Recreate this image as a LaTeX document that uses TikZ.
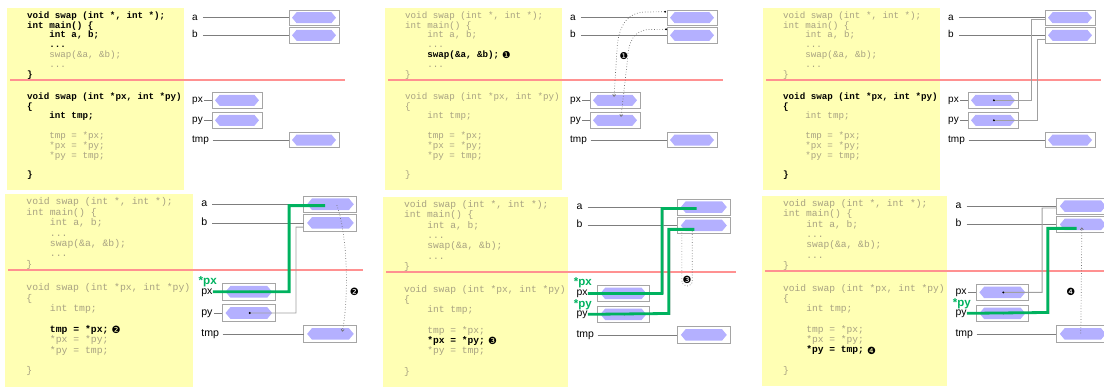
\documentclass[tikz,border=0pt]{standalone}
\usepackage{fontspec}
\setmainfont{Liberation Sans}
\newfontfamily\codefont{Liberation Mono}
\newfontfamily\dingfont{DejaVu Sans}
\usetikzlibrary{shapes.symbols,arrows.meta,calc}

\definecolor{yel}{RGB}{255,255,180}
\definecolor{redl}{RGB}{255,145,145}
\definecolor{lav}{RGB}{180,176,255}
\definecolor{boxg}{RGB}{165,165,165}
\definecolor{dimtxt}{RGB}{168,162,130}
\definecolor{grn}{RGB}{0,178,95}
\definecolor{conng}{RGB}{125,125,125}
\definecolor{ptrg}{RGB}{160,160,160}
\definecolor{dotg}{RGB}{110,110,110}

\tikzset{
 codetxt/.style={anchor=west, inner sep=0, text height=6.5, text depth=2, font=\fontsize{9.2}{10}\codefont},
 dim/.style={codetxt, text=dimtxt},
 hl/.style={codetxt, text=black, font=\fontsize{9.2}{10}\codefont\bfseries},
 l1/.style=dim, l2/.style=dim, l3/.style=dim, l4/.style=dim, l5/.style=dim,
 l6/.style=dim, l7/.style=dim, l8/.style=dim, l9/.style=dim, l10/.style=dim,
 l11/.style=dim, l12/.style=dim, l13/.style=dim, l14/.style=dim,
 vbox/.style={draw=boxg, line width=0.9, minimum width=50, minimum height=15.5, inner sep=0},
 hexa/.style={signal, signal to=east and west, signal pointer angle=100, fill=lav, minimum width=44, minimum height=11, inner sep=0},
 lab/.style={anchor=west, inner sep=0, text height=7, text depth=2.2, font=\fontsize{10}{12}\selectfont},
 conn/.style={draw=conng, line width=0.6},
 ptr/.style={draw=ptrg, line width=0.9},
 gline/.style={draw=grn, line width=2.8},
 glab/.style={anchor=west, inner sep=0, text=grn, font=\fontsize{11}{12}\selectfont\bfseries},
 mk/.style={inner sep=0, font=\fontsize{9.5}{10}\dingfont},
 dotl/.style={draw=dotg, dotted, line width=0.7},
 tipd/.style={-{Straight Barb[length=2pt,width=3pt]}},
}

\newcommand\drawcode[1]{%
 \node[l1] (#1-l1) at (27,16) {void swap (int *, int *);};
 \node[l2] (#1-l2) at (27,25.8) {int main() \{};
 \node[l3] (#1-l3) at (49.2,35.7) {int a, b;};
 \node[l4] (#1-l4) at (49.2,45.5) {...};
 \node[l5] (#1-l5) at (49.2,55.3) {swap(\&a, \&b);};
 \node[l6] (#1-l6) at (49.2,65.2) {...};
 \node[l7] (#1-l7) at (27,75) {\}};
 \node[l8] (#1-l8) at (27,97) {void swap (int *px, int *py)};
 \node[l9] (#1-l9) at (27,106.8) {\{};
 \node[l10] (#1-l10) at (49.2,116.6) {int tmp;};
 \node[l11] (#1-l11) at (49.2,136.2) {tmp = *px;};
 \node[l12] (#1-l12) at (49.2,146) {*px = *py;};
 \node[l13] (#1-l13) at (49.2,155.8) {*py = tmp;};
 \node[l14] (#1-l14) at (27,175.4) {\}};
}

\newcommand\basepanel[1]{%
 \fill[yel] (7,8) rectangle (184,190);
 \draw[redl, line width=2] (10,80) -- (345,80);
 \drawcode{#1}
 \node[vbox] (#1-ba) at (314,17.7) {};
 \node[hexa] (#1-ha) at (314,17.7) {};
 \node[vbox] (#1-bb) at (314,35.3) {};
 \node[hexa] (#1-hb) at (314,35.3) {};
 \node[vbox] (#1-bpx) at (237,100.3) {};
 \node[hexa] (#1-hpx) at (237,100.3) {};
 \node[vbox] (#1-bpy) at (237,120.3) {};
 \node[hexa] (#1-hpy) at (237,120.3) {};
 \node[vbox] (#1-btmp) at (314,140) {};
 \node[hexa] (#1-htmp) at (314,140) {};
 \node[lab] (#1-la) at (192,17.7) {a};
 \node[lab] (#1-lb) at (192,35.3) {b};
 \node[lab] (#1-lpx) at (192,100.3) {px};
 \node[lab] (#1-lpy) at (192,120.3) {py};
 \node[lab] (#1-ltmp) at (192,140) {tmp};
 \draw[conn, shorten <=5] (#1-la.east) -- (#1-ba.west);
 \draw[conn, shorten <=5] (#1-lb.east) -- (#1-bb.west);
 \draw[conn, shorten <=1.5] (#1-lpx.east) -- (#1-bpx.west);
 \draw[conn, shorten <=1.5] (#1-lpy.east) -- (#1-bpy.west);
 \draw[conn, shorten <=3.5] (#1-ltmp.east) -- (#1-btmp.west);
}

% pointer lines px -> a and py -> b
\newcommand\pointers[1]{%
 \coordinate (#1-pa) at (289,19.5);
 \coordinate (#1-pb) at (289,39.3);
 \draw[ptr, {Circle[length=1.8pt,black]}-] (#1-hpx.center) -- (275,100.3) -- (275,19.5) -- (#1-pa);
 \draw[ptr, {Circle[length=1.8pt,black]}-] (#1-hpy.center) -- (281.5,120.3) -- (281.5,39.3) -- (#1-pb);
}

\begin{document}
\begin{tikzpicture}[x=1pt,y=-1pt]
\useasboundingbox (0,0) rectangle (1104,388);
\clip (0,0) rectangle (1104,388);

% ---------- panel 1 ----------
\begin{scope}[l1/.style=hl, l2/.style=hl, l3/.style=hl, l4/.style=hl, l7/.style=hl,
  l8/.style=hl, l9/.style=hl, l10/.style=hl, l14/.style=hl]
 \basepanel{p1}
\end{scope}

% ---------- panel 2 ----------
\begin{scope}[shift={(378,0)}, l5/.style=hl]
 \basepanel{p2}
 \node[mk] (p2-m) at ($(p2-l5.east)+(7,0)$) {❶};
 \coordinate (p2-sa) at (288,11.7);
 \coordinate (p2-sb) at (289,29.3);
 \coordinate (p2-ea) at (236,97);
 \coordinate (p2-eb) at (243,117);
 \draw[dotl, {Circle[length=1.8pt,black]}-{Straight Barb[length=2pt,width=3pt]}]
   (p2-sa) -- (268,12) .. controls (248,12) and (240,28) .. (239,50) -- (p2-ea);
 \draw[dotl, {Circle[length=1.8pt,black]}-{Straight Barb[length=2pt,width=3pt]}]
   (p2-sb) -- (272,29.5) .. controls (256,29.5) and (250,42) .. (249.5,60) -- (p2-eb);
 \node[mk] (p2-n) at (246,56) {❶};
\end{scope}

% ---------- panel 3 ----------
\begin{scope}[shift={(756,0)}, l8/.style=hl, l9/.style=hl, l14/.style=hl]
 \basepanel{p3}
 \pointers{p3}
\end{scope}

% ---------- panel 4 ----------
\begin{scope}[shift={(-2.4,185.5)}, scale=1.06, transform shape, l11/.style=hl]
 \basepanel{p4}
 \pointers{p4}
 \node[mk] (p4-m) at ($(p4-l11.east)+(7,0)$) {❷};
 \coordinate (p4-ga) at (309,19);
 \draw[gline] (p4-lpx.east) -- (275,100.3) -- (275,19) -- (p4-ga);
 \node[glab] (p4-spx) at (189.5,90.3) {*px};
 \coordinate (p4-s) at (320,18.5);
 \coordinate (p4-e) at (325,138);
 \draw[dotl, tipd] (p4-s) .. controls (331,50) and (331,110) .. (p4-e);
 \node[mk] (p4-n) at (336.5,100) {❷};
\end{scope}

% ---------- panel 5 ----------
\begin{scope}[shift={(375.7,188.6)}, scale=1.045, transform shape, l12/.style=hl]
 \basepanel{p5}
 \pointers{p5}
 \node[mk] (p5-m) at ($(p5-l12.east)+(7,0)$) {❸};
 \coordinate (p5-ga) at (307,19);
 \coordinate (p5-gb) at (305,39);
 \draw[gline] (p5-lpx.east) -- (274,100.3) -- (274,19) -- (p5-ga);
 \draw[gline] (p5-lpy.east) -- (280.5,119.5) -- (280.5,39) -- (p5-gb);
 \node[glab] (p5-spx) at (189.5,90.5) {*px};
 \node[glab] (p5-spy) at (189.5,110.8) {*py};
 \draw[dotl] (303,41) -- (303,88) .. controls (303,95) and (293,95) .. (293,88) -- (293,41);
 \node[mk] (p5-n) at (298,87.5) {❸};
\end{scope}

% ---------- panel 6 ----------
\begin{scope}[shift={(754.7,187.6)}, scale=1.045, transform shape, l13/.style=hl]
 \basepanel{p6}
 \pointers{p6}
 \node[mk] (p6-m) at ($(p6-l13.east)+(7,0)$) {❹};
 \coordinate (p6-gb) at (308,39);
 \draw[gline] (p6-lpy.east) -- (280.5,119.5) -- (280.5,39) -- (p6-gb);
 \node[glab] (p6-spy) at (189.5,110.8) {*py};
 \coordinate (p6-s) at (312,139.4);
 \coordinate (p6-e) at (313,38);
 \draw[dotl, tipd] (p6-s) -- (p6-e);
 \node[mk] (p6-n) at (302.4,99.6) {❹};
\end{scope}
\end{tikzpicture}
\end{document}
